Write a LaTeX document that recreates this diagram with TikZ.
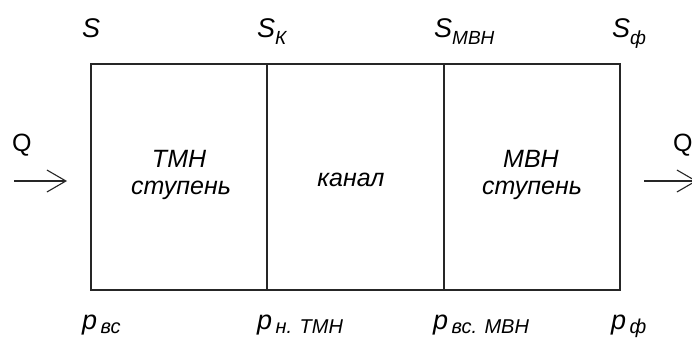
\documentclass[tikz,border=0pt]{standalone}
\usepackage{fontspec}
\setmainfont{Liberation Sans}
\usetikzlibrary{arrows.meta}
\newcommand{\lowsub}[3]{\raisebox{-#1}{\fontsize{#2}{#2}\selectfont\itshape #3}}
\begin{document}
\begin{tikzpicture}[x=1pt,y=-1pt,
  lbl/.style={inner sep=0pt,font=\fontsize{25}{28}\selectfont\itshape},
  big/.style={inner sep=0pt,font=\fontsize{27}{30}\selectfont\itshape},
  stage/.style={draw=black!85,line width=1.1pt,minimum height=226pt,inner sep=0pt},
  flow/.style={draw=black!85,line width=1.1pt,-{Straight Barb[length=19pt,width=22pt,line width=1.1pt]}}]
\useasboundingbox (0,0) rectangle (692,338);
\fill[white] (0,0) rectangle (692,338);
% blocks
\node[stage,minimum width=176pt] (b1) at (179,177) {};
\node[stage,minimum width=177pt] (b2) at (355.5,177) {};
\node[stage,minimum width=176pt] (b3) at (532,177) {};
% block texts
\node[lbl,anchor=base] (t1a) at (179,167) {ТМН};
\node[lbl,anchor=base] (t1b) at (181,194) {ступень};
\node[lbl,anchor=base] (t2) at (351,186) {канал};
\node[lbl,anchor=base] (t3a) at (531,167) {МВН};
\node[lbl,anchor=base] (t3b) at (532,194) {ступень};
% top labels
\node[big,anchor=base west] (s1) at (82,37) {S};
\node[big,anchor=base west] (s2) at (257,37) {S\lowsub{7pt}{19}{К}};
\node[big,anchor=base west] (s3) at (434,37) {S\lowsub{7pt}{19}{МВН}};
\node[big,anchor=base west] (s4) at (612,37) {S\lowsub{7pt}{19}{ф}};
% bottom labels
\node[big,anchor=base west] (p1) at (82,329) {p\lowsub{4pt}{20}{\,вс}};
\node[big,anchor=base west] (p2) at (257,329) {p\lowsub{4pt}{20}{\,н. ТМН}};
\node[big,anchor=base west] (p3) at (433,329) {p\lowsub{4pt}{20}{\,вс. МВН}};
\node[big,anchor=base west] (p4) at (611,329) {p\lowsub{4pt}{20}{\,ф}};
% flow
\node[lbl,anchor=base west,font=\fontsize{25}{28}\selectfont] (q1) at (12,151) {Q};
\node[lbl,anchor=base west,font=\fontsize{25}{28}\selectfont] (q2) at (673,151) {Q};
\coordinate (a1s) at (14,181);
\coordinate (a1e) at (67,181);
\coordinate (a2s) at (644,181);
\coordinate (a2e) at (697,181);
\draw[flow] (a1s) -- (a1e);
\draw[flow] (a2s) -- (a2e);
\end{tikzpicture}
\end{document}
